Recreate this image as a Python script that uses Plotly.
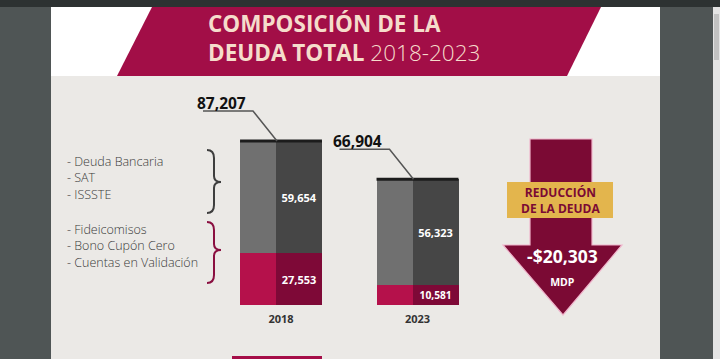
import plotly.graph_objects as go

# ---------------- data ----------------
years = ["2018", "2023"]
deuda_bancaria_sat_issste = [59654, 56323]          # gray segment
fideicomisos_bono_cuentas = [27553, 10581]          # magenta segment
totals = [87207, 66904]
gray_items = ["Deuda Bancaria", "SAT", "ISSSTE"]
red_items = ["Fideicomisos", "Bono Cupón Cero", "Cuentas en Validación"]
reduction = totals[0] - totals[1]

# ---------------- geometry helpers (layout only) ----------------
W, H = 720, 359
BASE_PX = 305                 # pixel row of the bars' baseline
X0_PX, X_UNIT_PX = 281, 136.5  # pixel of first category centre, px per category
TOP_PX = 141                  # pixel row wanted for the tallest bar
Y_PER_PX = totals[0] / (BASE_PX - TOP_PX)


def P(px, py):
    return px / W, (BASE_PX - py) / BASE_PX


def path(cmds):
    out = []
    for c, pts in cmds:
        s = c
        for (px, py) in pts:
            x, y = P(px, py)
            s += f" {x:.5f},{y:.5f}"
        out.append(s)
    return " ".join(out)


xs = list(range(len(years)))
LEFT_W, RIGHT_W = 0.264, 0.337
left_x = [i - 0.3 + LEFT_W / 2 for i in xs]
right_x = [i - 0.3 + LEFT_W + RIGHT_W / 2 for i in xs]

FONT = "Open Sans"
fig = go.Figure()

# faces of the pseudo-3D columns
fig.add_bar(x=left_x, y=fideicomisos_bono_cuentas, width=LEFT_W,
            marker=dict(color="#b5114b", line=dict(width=0)), hoverinfo="skip")
fig.add_bar(x=left_x, y=deuda_bancaria_sat_issste, width=LEFT_W,
            marker=dict(color="#707070", line=dict(width=0)), hoverinfo="skip")
fig.add_bar(x=right_x, y=fideicomisos_bono_cuentas, width=RIGHT_W,
            marker=dict(color="#7e0937", line=dict(width=0)),
            texttemplate="%{y:,}", textposition="inside", insidetextanchor="middle",
            textfont=dict(color="white", size=11, family=FONT, weight=700),
            hoverinfo="skip")
fig.add_bar(x=right_x, y=deuda_bancaria_sat_issste, width=RIGHT_W,
            marker=dict(color="#464646", line=dict(width=0)),
            texttemplate="%{y:,}", textposition="inside", insidetextanchor="middle",
            textfont=dict(color="white", size=11, family=FONT, weight=700),
            hoverinfo="skip")

# dark top edge of each column
tx, ty = [], []
for i, t in zip(xs, totals):
    tx += [i - 0.3, i + 0.3, None]
    ty += [t, t, None]
fig.add_scatter(x=tx, y=ty, mode="lines", line=dict(color="#1c1c1c", width=3),
                hoverinfo="skip", showlegend=False)

# leader lines from total labels to column tops
lx, ly = [], []
for i, t in zip(xs, totals):
    lx += [i - 78 / X_UNIT_PX, i - 28 / X_UNIT_PX, i - 4 / X_UNIT_PX, None]
    ly += [t + 30 * Y_PER_PX, t + 30 * Y_PER_PX, t, None]
fig.add_scatter(x=lx, y=ly, mode="lines", line=dict(color="#555555", width=1.5),
                hoverinfo="skip", showlegend=False)

annotations = []
for i, t in zip(xs, totals):
    annotations.append(dict(x=i, y=t, xref="x", yref="y", text=f"<b>{t:,}</b>",
                            showarrow=False, xshift=-60, yshift=38,
                            font=dict(family=FONT, size=15.5, color="#111111", weight=800)))

# ---------------- decoration shapes ----------------
shapes = []


def rect(x0, y0, x1, y1, color, layer="below"):
    a, b = P(x0, y0)
    c, d = P(x1, y1)
    shapes.append(dict(type="rect", xref="paper", yref="paper", x0=a, y0=d, x1=c, y1=b,
                       fillcolor=color, line=dict(width=0), layer=layer))


rect(0, 0, 720, 359, "#4f5555")          # surrounding window
rect(0, 0, 720, 7, "#2d3232")            # top strip
rect(51, 7, 660, 76, "#ffffff")          # slide header
rect(51, 76, 660, 359, "#ebe9e6")        # slide body
rect(713, 7, 720, 359, "#e4e4e4")        # scrollbar
rect(714, 14, 719, 60, "#c2c2c2")
rect(232, 356, 322, 359, "#a50e48")

# title banner
shapes.append(dict(type="path", xref="paper", yref="paper", layer="below",
                   path=path([("M", [(152, 7)]), ("L", [(601, 7)]), ("L", [(567, 76)]),
                              ("L", [(117, 76)])]) + " Z",
                   fillcolor="#a20e47", line=dict(width=0)))


# braces
def brace(x0, xs_, xt, y0, ym, y1, color):
    d = path([("M", [(x0, y0)]), ("Q", [(xs_, y0), (xs_, y0 + 8)]),
              ("L", [(xs_, ym - 6)]), ("Q", [(xs_, ym), (xt, ym)]),
              ("Q", [(xs_, ym), (xs_, ym + 6)]), ("L", [(xs_, y1 - 8)]),
              ("Q", [(xs_, y1), (x0, y1)])])
    shapes.append(dict(type="path", xref="paper", yref="paper", path=d,
                       line=dict(color=color, width=2)))


brace(207, 214, 221, 150, 182, 213, "#3e3e3e")
brace(207, 214, 221, 222, 250, 283, "#8a0f40")

# reduction arrow
shapes.append(dict(type="path", xref="paper", yref="paper",
                   path=path([("M", [(530, 139)]), ("L", [(592, 139)]), ("L", [(592, 245)]),
                              ("L", [(622, 245)]), ("L", [(563, 315)]), ("L", [(503, 245)]),
                              ("L", [(530, 245)])]) + " Z",
                   fillcolor="#7b0a34", line=dict(color="#f0b5cc", width=1.2)))
rect(507, 182, 613, 218, "#e3b54d", layer="above")


# ---------------- texts ----------------
def ann(px, py, text, size, color, weight=400, xanchor="center", family=FONT):
    x, y = P(px, py)
    annotations.append(dict(x=x, y=y, xref="paper", yref="paper", text=text,
                            showarrow=False, xanchor=xanchor, yanchor="middle",
                            align="left" if xanchor == "left" else "center",
                            font=dict(family=family, size=size, color=color, weight=weight)))


ann(206, 38, "<b>COMPOSICIÓN DE LA</b><br><b>DEUDA TOTAL</b> "
    "<span style='font-weight:300'>2018-2023</span>",
    22.5, "#f5dccb", 800, "left")

ann(65, 178, "<br>".join("- " + s for s in gray_items), 12.5, "#3a3a3a", 300, "left")
ann(65, 246, "<br>".join("- " + s for s in red_items), 12.5, "#3a3a3a", 300, "left")

ann(560, 200, "<b>REDUCCIÓN</b><br><b>DE LA DEUDA</b>", 12, "#7b0a34", 800)
ann(562, 266, f"<b>-${reduction:,}</b><br><span style='font-size:10.5px'><b>MDP</b></span>",
    17.5, "#ffffff", 800)

fig.update_layout(
    width=W, height=H,
    margin=dict(l=0, r=0, t=0, b=H - BASE_PX, pad=0),
    barmode="stack",
    showlegend=False,
    paper_bgcolor="#4f5555",
    plot_bgcolor="rgba(0,0,0,0)",
    shapes=shapes,
    annotations=annotations,
    xaxis=dict(range=[(0 - X0_PX) / X_UNIT_PX, (W - X0_PX) / X_UNIT_PX],
               tickvals=xs, ticktext=years, showgrid=False, zeroline=False,
               showline=False, ticks="", ticklabelstandoff=6,
               tickfont=dict(family=FONT, size=11, color="#333333", weight=700),
               fixedrange=True),
    yaxis=dict(range=[0, BASE_PX * Y_PER_PX], visible=False, showgrid=False,
               fixedrange=True),
)

fig.write_html("out.html", config={"displayModeBar": False},
               post_script="document.body.style.margin='0';document.body.style.padding='0';")
